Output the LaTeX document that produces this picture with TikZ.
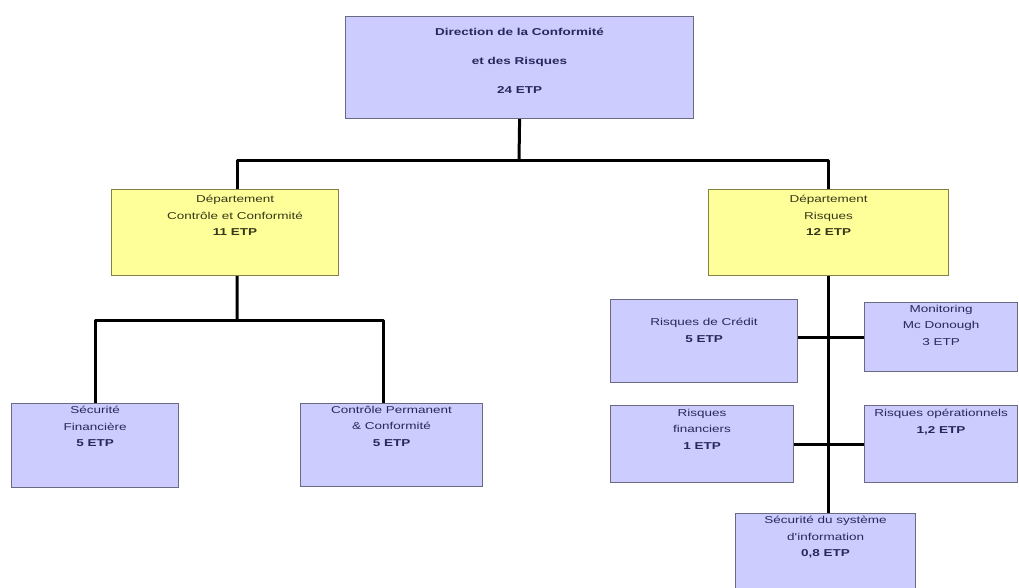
\documentclass[tikz,border=0pt]{standalone}
\usepackage{fontspec}
\newfontfamily\orgfont[FakeStretch=1.35]{Liberation Sans}
\usetikzlibrary{positioning}

\definecolor{boxblue}{RGB}{204,204,255}
\definecolor{boxyellow}{RGB}{255,255,153}
\definecolor{edgeblue}{RGB}{105,105,130}
\definecolor{edgeyellow}{RGB}{130,130,70}
\definecolor{inkblue}{RGB}{40,40,95}
\definecolor{inkyellow}{RGB}{55,55,25}

\tikzset{
  bluebox/.style={draw=edgeblue,fill=boxblue,line width=1.2pt,anchor=north west,inner sep=0pt},
  yellowbox/.style={draw=edgeyellow,fill=boxyellow,line width=1.2pt,anchor=north west,inner sep=0pt},
  boxtxt/.style={align=center,inner sep=0pt,font=\orgfont\fontsize{10}{16.5}\selectfont},
  link/.style={line width=3pt,line join=round,black}
}

\begin{document}
\begin{tikzpicture}[x=1pt,y=-1pt]
\fill[white] (0,0) rectangle (1019,587);
\useasboundingbox (0,0) rectangle (1019,587);

% forks
\coordinate (topfork) at (519,160);
\coordinate (leftfork) at (237,320);

% boxes
\path (345,16)  node[bluebox,minimum width=348pt,minimum height=102pt] (dir) {};
\path (111,189) node[yellowbox,minimum width=227pt,minimum height=86pt] (dcc) {};
\path (708,189) node[yellowbox,minimum width=240pt,minimum height=86pt] (drq) {};
\path (11,403)  node[bluebox,minimum width=167pt,minimum height=84pt] (sf) {};
\path (300,403) node[bluebox,minimum width=182pt,minimum height=83pt] (cp) {};
\path (610,299) node[bluebox,minimum width=187pt,minimum height=83pt] (rc) {};
\path (864,302) node[bluebox,minimum width=153pt,minimum height=69pt] (mon) {};
\path (610,405) node[bluebox,minimum width=183pt,minimum height=77pt] (rf) {};
\path (864,405) node[bluebox,minimum width=153pt,minimum height=77pt] (ro) {};
\path (735,513) node[bluebox,minimum width=180pt,minimum height=90pt] (ssi) {};

% links
\draw[link] (dir.south) -- (topfork);
\draw[link] ([xshift=12pt]dcc.north) |- (topfork) -| (drq.north);
\draw[link] ([xshift=12pt]dcc.south) -- (leftfork);
\draw[link] (sf.north) |- (leftfork) -| ([xshift=-8pt]cp.north);
\draw[link] (drq.south) -- (drq.south |- ssi.north);
\draw[link] (mon.west) -- (mon.west -| rc.east);
\draw[link] (rf.east) -- (ro.west);

% texts
\node[boxtxt,text=inkblue,below=12pt of dir.north,font=\orgfont\fontsize{10}{29}\selectfont\bfseries] (dirT)
  {Direction de la Conformité\\et des Risques\\24 ETP};
\node[boxtxt,text=inkyellow,below=6pt of dcc.north,xshift=10pt] (dccT)
  {Département\\Contrôle et Conformité\\\textbf{11 ETP}};
\node[boxtxt,text=inkyellow,below=6pt of drq.north] (drqT)
  {Département\\Risques\\\textbf{12 ETP}};
\node[boxtxt,text=inkblue,below=3pt of sf.north] (sfT)
  {Sécurité\\Financière\\\textbf{5 ETP}};
\node[boxtxt,text=inkblue,below=3pt of cp.north] (cpT)
  {Contrôle Permanent\\\& Conformité\\\textbf{5 ETP}};
\node[boxtxt,text=inkblue,below=19pt of rc.north] (rcT)
  {Risques de Crédit\\\textbf{5 ETP}};
\node[boxtxt,text=inkblue,below=3pt of mon.north] (monT)
  {Monitoring\\Mc Donough\\3 ETP};
\node[boxtxt,text=inkblue,below=4pt of rf.north] (rfT)
  {Risques\\financiers\\\textbf{1 ETP}};
\node[boxtxt,text=inkblue,below=4pt of ro.north] (roT)
  {Risques opérationnels\\\textbf{1,2 ETP}};
\node[boxtxt,text=inkblue,below=3pt of ssi.north] (ssiT)
  {Sécurité du système\\d'information\\\textbf{0,8 ETP}};
\end{tikzpicture}
\end{document}
